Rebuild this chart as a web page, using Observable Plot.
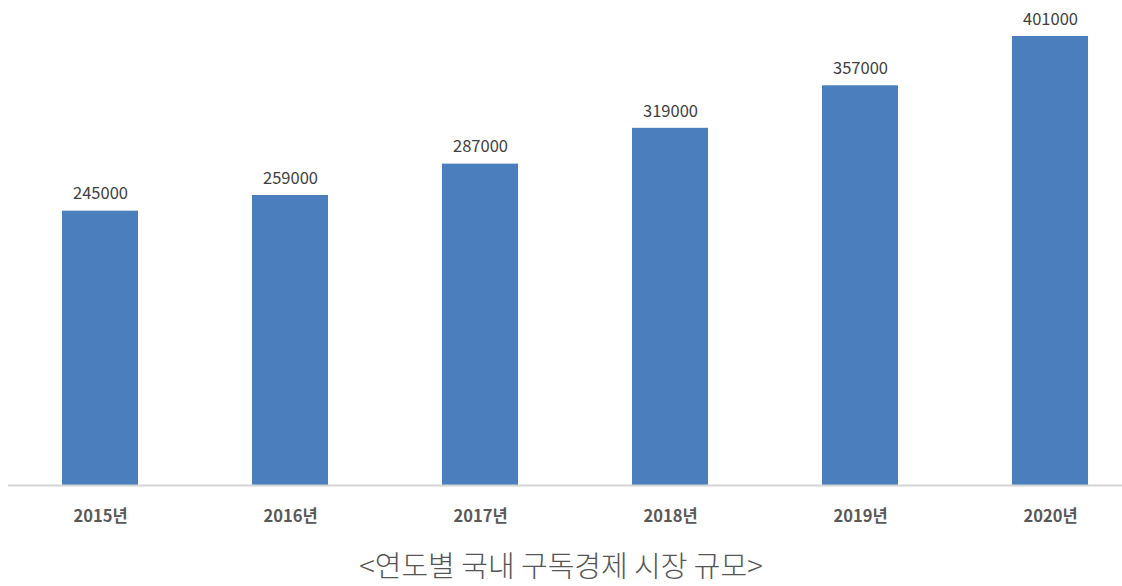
<!DOCTYPE html>
<html>
<head>
<meta charset="utf-8">
<script src="https://cdn.jsdelivr.net/npm/d3@7"></script>
<script src="https://cdn.jsdelivr.net/npm/@observablehq/plot@0.6"></script>
<style>
  html, body { margin: 0; padding: 0; background: #fff; }
  #caption { width: 1122px; text-align: center; font-family: "Noto Sans CJK KR", sans-serif; font-weight: 300; font-size: 29px; color: #555; line-height: 30px; margin-top: 9px; }
</style>
</head>
<body>
<div id="chart"></div>
<div id="caption">&lt;연도별 국내 구독경제 시장 규모&gt;</div>
<script>
const years = ["2015년", "2016년", "2017년", "2018년", "2019년", "2020년"];
const values = [245000, 259000, 287000, 319000, 357000, 401000];
const data = years.map((year, i) => ({year, value: values[i]}));

const chart = Plot.plot({
  width: 1122,
  height: 540,
  marginLeft: 8,
  marginRight: 0,
  marginTop: 0,
  marginBottom: 55,
  style: {fontFamily: "'Noto Sans CJK KR', sans-serif", background: "#fff"},
  x: {domain: years, range: [3.8, 1146.2], paddingInner: 0.6, paddingOuter: 0.3, label: null},
  y: {domain: [0, 401000], range: [485, 36], axis: null},
  marks: [
    Plot.barY(data, {x: "year", y: "value", fill: "#4a7ebd"}),
    Plot.ruleY([0], {stroke: "#d4d4d4", strokeWidth: 2}),
    Plot.text(data, {x: "year", y: "value", text: d => String(d.value), dy: -17, fill: "#404040", fontSize: 16.5}),
    Plot.axisX({tickSize: 0, tickPadding: 25, fontSize: 16.5, fontWeight: "bold", color: "#595959"})
  ]
});
document.getElementById("chart").appendChild(chart);
</script>
</body>
</html>
